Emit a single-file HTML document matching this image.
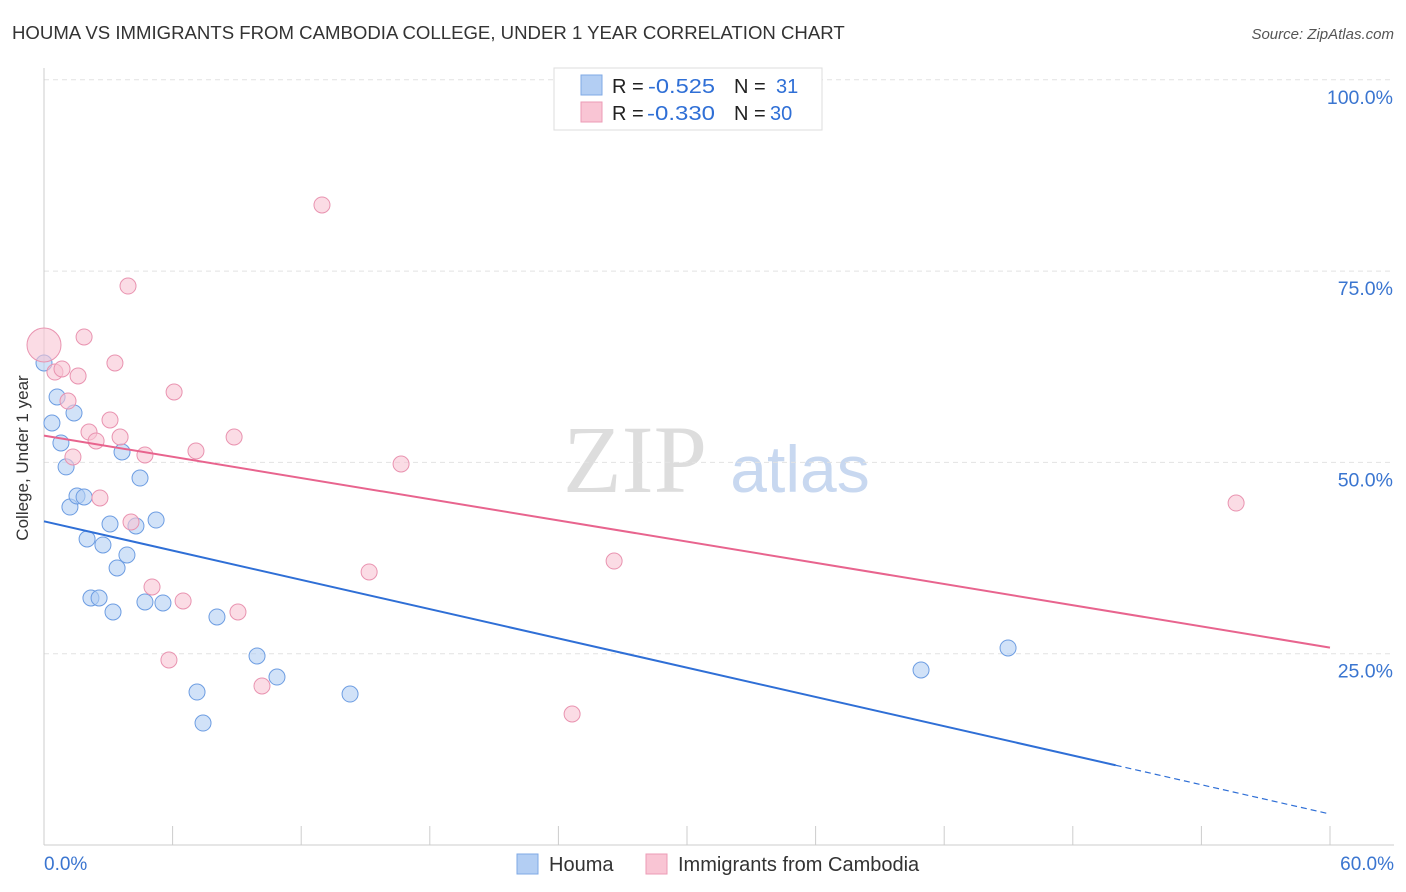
<!DOCTYPE html>
<html><head><meta charset="utf-8"><style>
body{margin:0;background:#fff;font-family:"Liberation Sans",sans-serif;}
#wrap{position:relative;width:1406px;height:892px;overflow:hidden}
</style></head><body>
<div id="wrap">
<svg id="svg" width="1406" height="892" xmlns="http://www.w3.org/2000/svg">
<text x="12" y="39" font-size="18.6" fill="#333">HOUMA VS IMMIGRANTS FROM CAMBODIA COLLEGE, UNDER 1 YEAR CORRELATION CHART</text>
<text x="1394" y="39" font-size="15" fill="#555" font-style="italic" text-anchor="end">Source: ZipAtlas.com</text>
<text x="28" y="458" font-size="17" fill="#333" text-anchor="middle" transform="rotate(-90 28 458)">College, Under 1 year</text>
<text x="635" y="492" font-size="96" fill="#ddd" font-family="Liberation Serif" text-anchor="middle">ZIP</text>
<text x="800" y="492" font-size="66" fill="#c8d8f0" text-anchor="middle">atlas</text>
<g id="grid"></g><g id="marks"></g>
<g font-size="20">
<rect x="554" y="68" width="268" height="62" fill="#fff" stroke="#ddd"/>
<rect x="581" y="75" width="21" height="20" fill="#b3cef3" stroke="#7fa9e6"/>
<rect x="581" y="102" width="21" height="20" fill="#f9c5d4" stroke="#ec9bb6"/>
<text x="612" y="93" fill="#222">R =</text>
<text x="648" y="93" fill="#2f6fd6" textLength="67" lengthAdjust="spacingAndGlyphs">-0.525</text>
<text x="734" y="93" fill="#222">N =</text>
<text x="776" y="93" fill="#2f6fd6">31</text>
<text x="612" y="120" fill="#222">R =</text>
<text x="647" y="120" fill="#2f6fd6" textLength="68" lengthAdjust="spacingAndGlyphs">-0.330</text>
<text x="734" y="120" fill="#222">N =</text>
<text x="770" y="120" fill="#2f6fd6">30</text>
</g>
<g>
<rect x="517" y="854" width="21" height="20" fill="#b3cef3" stroke="#7fa9e6"/>
<text x="549" y="871" font-size="20" fill="#333">Houma</text>
<rect x="646" y="854" width="21" height="20" fill="#f9c5d4" stroke="#ec9bb6"/>
<text x="678" y="871" font-size="20" fill="#333">Immigrants from Cambodia</text>
</g>
</svg></div>
<script>
const blueX=[0,0.37,0.61,0.79,1.03,1.21,1.40,1.54,1.87,2.01,2.19,2.57,2.75,3.08,3.22,3.41,3.64,3.87,4.29,4.48,4.71,5.23,5.55,7.14,7.42,8.07,9.94,10.87,14.28,40.92,44.98];
const blueY=[62.99,55.15,58.55,52.54,49.41,44.17,56.46,45.61,45.48,39.99,32.28,32.28,39.21,41.95,30.45,36.20,51.36,37.90,41.69,47.96,31.76,42.47,31.63,19.99,15.94,29.80,24.70,21.95,19.73,22.87,25.75];
const pinkX=[0,0.51,0.84,1.12,1.35,1.59,1.87,2.10,2.43,2.61,3.08,3.31,3.55,3.92,4.06,4.71,5.04,5.83,6.07,6.49,7.09,8.87,9.05,10.17,12.97,15.17,16.66,24.64,26.6,55.62];
const pinkY=[65.34,61.81,62.21,58.02,50.71,61.29,66.39,53.97,52.80,45.35,55.54,62.99,53.32,73.05,42.21,50.97,33.72,24.18,59.20,31.89,51.49,53.32,30.45,20.78,83.64,35.68,49.79,17.12,37.11,44.69];
const blueTrend=[42.3,4.05];
const pinkTrend=[53.5,25.8];
const yTicks=[25,50,75,100];
const xTickLabels=["0.0%","60.0%"];
const NS="http://www.w3.org/2000/svg";
const sx=v=>44+v*21.433, sy=v=>845-v*7.652;
function mk(tag,attrs,parent){const e=document.createElementNS(NS,tag);for(const k in attrs)e.setAttribute(k,attrs[k]);parent.appendChild(e);return e;}
const grid=document.getElementById('grid'), marks=document.getElementById('marks');
yTicks.forEach(t=>{
 const l=mk('line',{x1:44,x2:1394,y1:sy(t),y2:sy(t),stroke:'#e2e2e2','stroke-dasharray':'5,4'},grid);
 
 
 const tx=mk('text',{x:1393,y:sy(t)+24,'font-size':19.5,fill:'#3a75d0','text-anchor':'end'},grid);
 tx.textContent=t.toFixed(1)+'%';
 
 
});
const ax=mk('line',{x1:44,x2:44,y1:68,y2:845,stroke:'#ccc'},grid);


const xa=mk('line',{x1:44,x2:1394,y1:845,y2:845,stroke:'#ccc'},grid);


for(let i=0;i<=10;i++){const x=44+i*128.6;const tk=mk('line',{x1:x,x2:x,y1:826,y2:845,stroke:'#ccc'},grid);
 
 }
[[0,'start',44],[60,'end',1394]].forEach((d,i)=>{const t=mk('text',{x:d[2],y:870,'font-size':19,fill:'#3a75d0','text-anchor':d[1]},grid);t.textContent=xTickLabels[i];
 
 });
function pts(X,Y,fill,stroke,name){X.forEach((x,i)=>{const r=(name==='pink-point'&&i===0)?17:8;
 const c=mk('circle',{cx:sx(x),cy:sy(Y[i]),r:r,fill:fill,'fill-opacity':0.6,stroke:stroke,'stroke-width':1},marks);
 
 });}
pts(blueX,blueY,'#b3cef3','#6d9de2','blue-point');
pts(pinkX,pinkY,'#f9c5d4','#e993b0','pink-point');
const bAt=x=>blueTrend[0]+(blueTrend[1]-blueTrend[0])*x/60;
const b1=mk('line',{x1:sx(0),y1:sy(bAt(0)),x2:sx(50),y2:sy(bAt(50)),stroke:'#2f6fd6','stroke-width':2},marks);


const b2=mk('line',{x1:sx(50),y1:sy(bAt(50)),x2:sx(60),y2:sy(bAt(60)),stroke:'#2f6fd6','stroke-width':1.2,'stroke-dasharray':'6,4'},marks);


const p1=mk('line',{x1:sx(0),y1:sy(pinkTrend[0]),x2:sx(60),y2:sy(pinkTrend[1]),stroke:'#e8648e','stroke-width':2},marks);


</script>
</body></html>
